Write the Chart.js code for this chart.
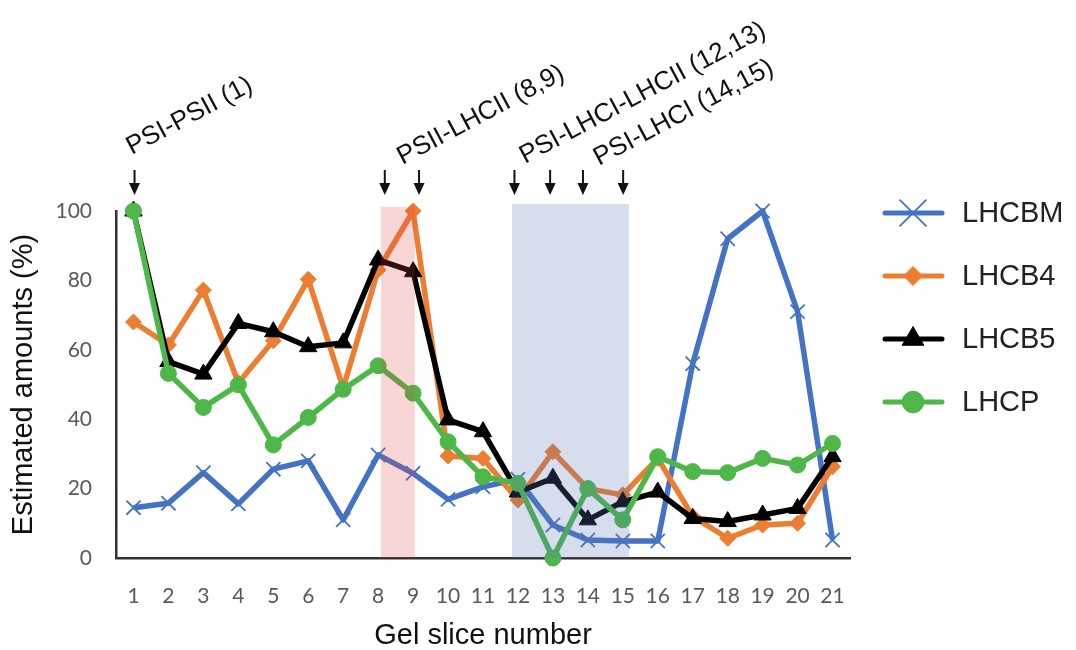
<!DOCTYPE html>
<html>
<head>
<meta charset="utf-8">
<script src="https://cdn.jsdelivr.net/npm/chart.js@4.4.1/dist/chart.umd.min.js"></script>
<style>
  html, body { margin: 0; padding: 0; background: #fff; }
</style>
</head>
<body>
<canvas id="gelSliceChart" width="1076" height="650"></canvas>
<script>
// gel slices on the x axis
let slices = ['1', '2', '3', '4', '5', '6', '7', '8', '9', '10', '11',
              '12', '13', '14', '15', '16', '17', '18', '19', '20', '21'];

// estimated amounts (%) per slice
let lhcbm = [14.5, 15.8, 24.6, 15.6, 25.6, 28, 11, 29.7, 24.4, 16.9, 20.5,
             22.7, 9.5, 5.2, 4.9, 4.9, 56, 92, 100, 71, 5.2];
let lhcb4 = [68, 61.4, 77.2, 50.5, 62.6, 80.3, 49, 83, 100, 29.4, 28.7,
             16.7, 30.6, 20, 18.2, 28.7, 12, 5.7, 9.5, 10, 26.3];
let lhcb5 = [100, 56.6, 53, 67.6, 65.2, 60.9, 62, 85.9, 82.5, 39.8, 36.4,
             19, 23, 11, 16.2, 19, 11.4, 10.5, 12.4, 14.3, 29.2];
let lhcp = [100, 53.2, 43.4, 49.9, 32.6, 40.5, 48.6, 55.4, 47.5, 33.5, 23.4,
            21.5, 0, 20, 11, 29.2, 24.9, 24.6, 28.7, 26.8, 33];

let yTicks = [0, 20, 40, 60, 80, 100];

// complexes marked above the plot (positions in slice-index units)
let complexNames = ['PSI-PSII (1)', 'PSII-LHCII (8,9)', 'PSI-LHCI-LHCII (12,13)', 'PSI-LHCI (14,15)'];
let complexAt = [-0.05, 7.7, 11.2, 13.32];
let complexBaseY = [155, 165, 164, 166];
let arrowAt = [0.03, 7.19, 8.17, 10.9, 11.92, 12.86, 14.01];

// shaded slice ranges
let bandRanges = [[7.08, 8.05], [10.83, 14.18]];
let bandColors = ['rgba(227, 68, 68, 0.22)', 'rgba(92, 120, 180, 0.25)'];

let legendMarkerRadius = [19, 9.5, 12.5, 10.8];

const bandsPlugin = {
  id: 'bands',
  afterDatasetsDraw(chart) {
    const ctx = chart.ctx;
    const x = chart.scales.x, y = chart.scales.y;
    ctx.save();
    bandRanges.forEach((r, i) => {
      const x0 = x.getPixelForValue(r[0]);
      const x1 = x.getPixelForValue(r[1]);
      const top = y.getPixelForValue(i === 0 ? 101.2 : 102);
      ctx.fillStyle = bandColors[i];
      ctx.fillRect(x0, top, x1 - x0, y.getPixelForValue(0) - top);
    });
    ctx.restore();
  }
};

const annotationPlugin = {
  id: 'complexLabels',
  afterDraw(chart) {
    const ctx = chart.ctx;
    const x = chart.scales.x;
    ctx.save();
    // arrows
    ctx.fillStyle = '#111';
    ctx.strokeStyle = '#111';
    ctx.lineWidth = 2;
    arrowAt.forEach(v => {
      const px = x.getPixelForValue(v);
      ctx.beginPath();
      ctx.moveTo(px, 170);
      ctx.lineTo(px, 185);
      ctx.stroke();
      ctx.beginPath();
      ctx.moveTo(px - 5.5, 183);
      ctx.lineTo(px + 5.5, 183);
      ctx.lineTo(px, 195);
      ctx.closePath();
      ctx.fill();
    });
    // rotated labels
    ctx.font = '26px "Liberation Sans", Arial, sans-serif';
    ctx.textAlign = 'left';
    ctx.textBaseline = 'alphabetic';
    complexNames.forEach((name, i) => {
      ctx.save();
      ctx.translate(x.getPixelForValue(complexAt[i]), complexBaseY[i]);
      ctx.rotate(-28 * Math.PI / 180);
      ctx.fillText(name, 0, 0);
      ctx.restore();
    });
    ctx.restore();
  }
};

const sideLegendPlugin = {
  id: 'sideLegend',
  afterDraw(chart) {
    const ctx = chart.ctx;
    const left = chart.chartArea.right + 35;
    ctx.save();
    chart.data.datasets.forEach((ds, i) => {
      const cy = chart.chartArea.top + 2 + i * 63;
      ctx.strokeStyle = ds.borderColor;
      ctx.lineWidth = 5;
      ctx.lineCap = 'round';
      ctx.beginPath();
      ctx.moveTo(left, cy);
      ctx.lineTo(left + 57, cy);
      ctx.stroke();
      ctx.lineCap = 'butt';
      ctx.fillStyle = ds.backgroundColor;
      ctx.lineWidth = ds.pointBorderWidth;
      Chart.helpers.drawPoint(ctx, {
        pointStyle: ds.pointStyle,
        radius: legendMarkerRadius[i],
        rotation: 0,
        borderWidth: ds.pointBorderWidth
      }, left + 28, cy);
      ctx.fillStyle = '#222';
      ctx.font = '29px "Liberation Sans", Arial, sans-serif';
      ctx.textBaseline = 'middle';
      ctx.fillText(ds.label, left + 77, cy + 1);
    });
    ctx.restore();
  }
};

let context = document.getElementById('gelSliceChart').getContext('2d');
new Chart(context, {
  type: 'line',
  data: {
    labels: slices,
    datasets: [{
        label: 'LHCBM',
        data: lhcbm,
        borderColor: '#4472C4',
        backgroundColor: '#4472C4',
        pointStyle: 'crossRot',
        pointRadius: 10,
        pointBorderWidth: 1.8,
        order: 4,
      },
      {
        label: 'LHCB4',
        data: lhcb4,
        borderColor: '#ED7D31',
        backgroundColor: '#ED7D31',
        pointStyle: 'rectRot',
        pointRadius: 8,
        pointBorderWidth: 1,
        order: 3,
      },
      {
        label: 'LHCB5',
        data: lhcb5,
        borderColor: '#000000',
        backgroundColor: '#000000',
        pointStyle: 'triangle',
        pointRadius: 10,
        pointBorderWidth: 1,
        order: 2,
      },
      {
        label: 'LHCP',
        data: lhcp,
        borderColor: '#4DB748',
        backgroundColor: '#4DB748',
        pointStyle: 'circle',
        pointRadius: 8,
        pointBorderWidth: 1,
        order: 1,
      },
    ]
  },
  options: {
    responsive: false,
    animation: false,
    devicePixelRatio: 1,
    layout: { padding: { top: 211, right: 226, left: 0, bottom: 0 } },
    datasets: {
      line: { borderWidth: 5.5, tension: 0, clip: false, borderJoinStyle: 'round' }
    },
    plugins: {
      legend: { display: false },
      tooltip: { enabled: false }
    },
    scales: {
      x: {
        offset: true,
        grid: { display: false, drawTicks: false },
        border: { display: true, color: '#333', width: 2.5 },
        ticks: { color: '#595959', padding: 26, font: { family: 'Lato', size: 21 }, maxRotation: 0, autoSkip: false },
        title: { display: true, text: 'Gel slice number', color: '#111',
                 font: { family: 'Liberation Sans', size: 29 }, padding: { top: 0, bottom: -3 } },
        afterFit(scale) { scale.height = 92; }
      },
      y: {
        min: 0,
        max: 100,
        grid: { display: false, drawTicks: false },
        border: { display: true, color: '#333', width: 2.5 },
        ticks: { stepSize: 20, color: '#595959', padding: 24, font: { family: 'Lato', size: 21 } },
        afterBuildTicks(scale) { scale.ticks = yTicks.map(v => ({ value: v })); },
        title: { display: true, text: 'Estimated amounts (%)', color: '#111',
                 font: { family: 'Liberation Sans', size: 29 }, padding: { top: 7, bottom: 0 } },
        afterFit(scale) { scale.width = 116; }
      }
    }
  },
  plugins: [bandsPlugin, annotationPlugin, sideLegendPlugin]
});
</script>
</body>
</html>
